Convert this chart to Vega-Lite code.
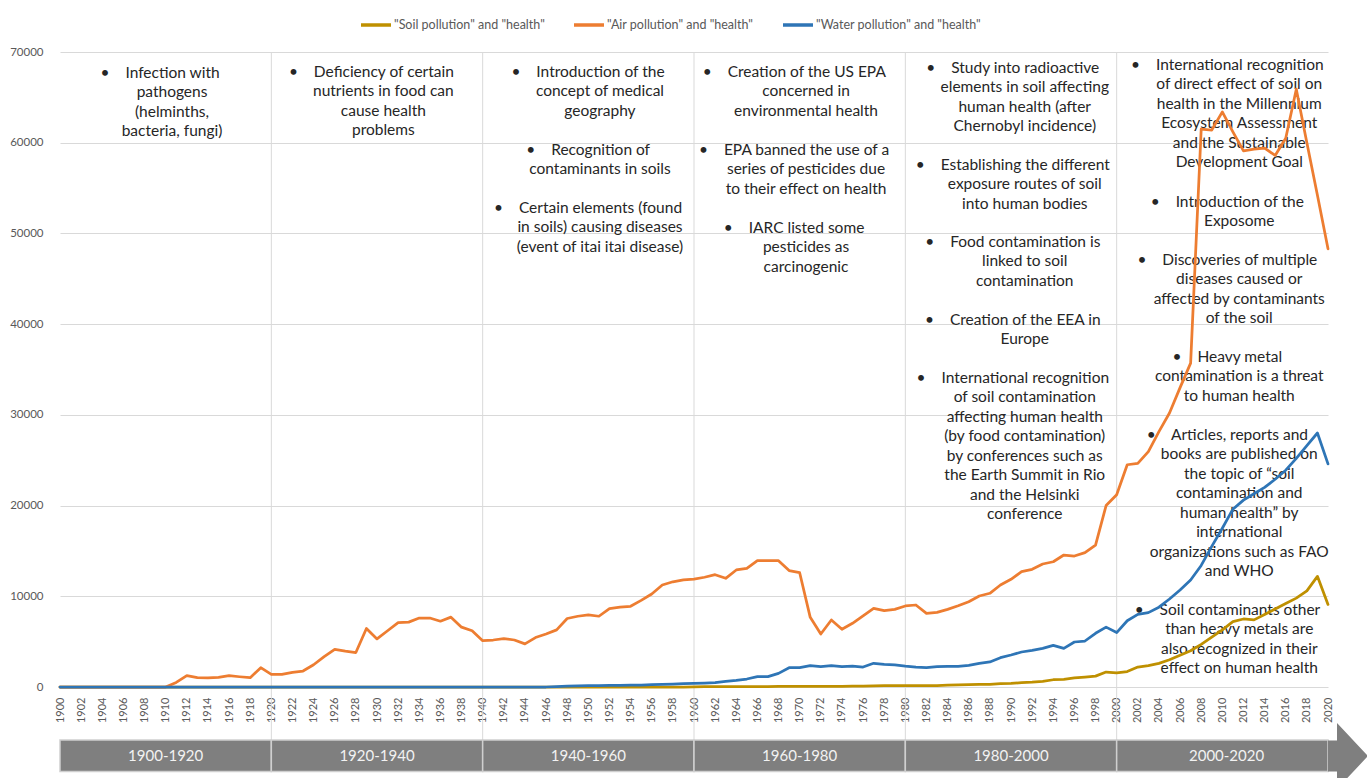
{
  "$schema": "https://vega.github.io/schema/vega-lite/v6.json",
  "width": 1268,
  "height": 635,
  "autosize": "none",
  "padding": {"left": 60, "top": 52, "right": 39, "bottom": 91},
  "background": "white",
  "config": {
    "view": {"stroke": null},
    "font": "Lato",
    "text": {"font": "Lato"},
    "axisX": {"labelOverlap": false, "labelFlush": false, "labelBound": false, "labelAngle": 270, "labelFontSize": 11, "labelColor": "#595959", "labelFont": "Lato", "ticks": false, "domain": false, "grid": false, "labelPadding": 10},
    "axisY": {"labelFontSize": 11.5, "labelColor": "#595959", "labelFont": "Lato", "ticks": false, "domain": false, "grid": true, "gridColor": "#d9d9d9", "gridWidth": 1, "labelPadding": 17}
  },
  "datasets": {
    "periods": [
      {"period": "1900-1920", "start": 1900, "end": 1920, "mid": 1910},
      {"period": "1920-1940", "start": 1920, "end": 1940, "mid": 1930},
      {"period": "1940-1960", "start": 1940, "end": 1960, "mid": 1950},
      {"period": "1960-1980", "start": 1960, "end": 1980, "mid": 1970},
      {"period": "1980-2000", "start": 1980, "end": 2000, "mid": 1990},
      {"period": "2000-2020", "start": 2000, "end": 2020, "mid": 2010.4}
    ],
    "notes": [
      {"year": 1910.6, "value": 68457, "text": "•\u00a0\u00a0\u00a0\u00a0Infection with\u00a0\u00a0\u00a0\u00a0\u00a0\u00a0\u200b\npathogens\n(helminths,\nbacteria, fungi)"},
      {"year": 1930.6, "value": 68567, "text": "•\u00a0\u00a0\u00a0\u00a0Deficiency of certain\u00a0\u00a0\u00a0\u00a0\u00a0\u00a0\u200b\nnutrients in food can\ncause health\nproblems"},
      {"year": 1951.1, "value": 68567, "text": "•\u00a0\u00a0\u00a0\u00a0Introduction of the\u00a0\u00a0\u00a0\u00a0\u00a0\u00a0\u200b\nconcept of medical\ngeography"},
      {"year": 1951.1, "value": 59968, "text": "•\u00a0\u00a0\u00a0\u00a0Recognition of\u00a0\u00a0\u00a0\u00a0\u00a0\u00a0\u200b\ncontaminants in soils"},
      {"year": 1951.1, "value": 53575, "text": "•\u00a0\u00a0\u00a0\u00a0Certain elements (found\u00a0\u00a0\u00a0\u00a0\u00a0\u00a0\u200b\nin soils) causing diseases\n(event of itai itai disease)"},
      {"year": 1970.6, "value": 68567, "text": "•\u00a0\u00a0\u00a0\u00a0Creation of the US EPA\u00a0\u00a0\u00a0\u00a0\u00a0\u00a0\u200b\nconcerned in\nenvironmental health"},
      {"year": 1970.6, "value": 59968, "text": "•\u00a0\u00a0\u00a0\u00a0EPA banned the use of a\u00a0\u00a0\u00a0\u00a0\u00a0\u00a0\u200b\nseries of pesticides due\nto their effect on health"},
      {"year": 1970.6, "value": 51370, "text": "•\u00a0\u00a0\u00a0\u00a0IARC listed some\u00a0\u00a0\u00a0\u00a0\u00a0\u00a0\u200b\npesticides as\ncarcinogenic"},
      {"year": 1991.3, "value": 69008, "text": "•\u00a0\u00a0\u00a0\u00a0Study into radioactive\u00a0\u00a0\u00a0\u00a0\u00a0\u00a0\u200b\nelements in soil affecting\nhuman health (after\nChernobyl incidence)"},
      {"year": 1991.3, "value": 58315, "text": "•\u00a0\u00a0\u00a0\u00a0Establishing the different\u00a0\u00a0\u00a0\u00a0\u00a0\u00a0\u200b\nexposure routes of soil\ninto human bodies"},
      {"year": 1991.3, "value": 49827, "text": "•\u00a0\u00a0\u00a0\u00a0Food contamination is\u00a0\u00a0\u00a0\u00a0\u00a0\u00a0\u200b\nlinked to soil\ncontamination"},
      {"year": 1991.3, "value": 41228, "text": "•\u00a0\u00a0\u00a0\u00a0Creation of the EEA in\u00a0\u00a0\u00a0\u00a0\u00a0\u00a0\u200b\nEurope"},
      {"year": 1991.3, "value": 34835, "text": "•\u00a0\u00a0\u00a0\u00a0International recognition\u00a0\u00a0\u00a0\u00a0\u00a0\u00a0\u200b\nof soil contamination\naffecting human health\n(by food contamination)\nby conferences such as\nthe Earth Summit in Rio\nand the Helsinki\nconference"},
      {"year": 2011.6, "value": 69338, "text": "•\u00a0\u00a0\u00a0\u00a0International recognition\u00a0\u00a0\u00a0\u00a0\u00a0\u00a0\u200b\nof direct effect of soil on\nhealth in the Millennium\nEcosystem Assessment\nand the Sustainable\nDevelopment Goal"},
      {"year": 2011.6, "value": 54236, "text": "•\u00a0\u00a0\u00a0\u00a0Introduction of the\u00a0\u00a0\u00a0\u00a0\u00a0\u00a0\u200b\nExposome"},
      {"year": 2011.6, "value": 47842, "text": "•\u00a0\u00a0\u00a0\u00a0Discoveries of multiple\u00a0\u00a0\u00a0\u00a0\u00a0\u00a0\u200b\ndiseases caused or\naffected by contaminants\nof the soil"},
      {"year": 2011.6, "value": 37150, "text": "•\u00a0\u00a0\u00a0\u00a0Heavy metal\u00a0\u00a0\u00a0\u00a0\u00a0\u00a0\u200b\ncontamination is a threat\nto human health"},
      {"year": 2011.6, "value": 28551, "text": "•\u00a0\u00a0\u00a0\u00a0Articles, reports and\u00a0\u00a0\u00a0\u00a0\u00a0\u00a0\u200b\nbooks are published on\nthe topic of “soil\ncontamination and\nhuman health” by\ninternational\norganizations such as FAO\nand WHO"},
      {"year": 2011.6, "value": 9260, "text": "•\u00a0\u00a0\u00a0\u00a0Soil contaminants other\u00a0\u00a0\u00a0\u00a0\u00a0\u00a0\u200b\nthan heavy metals are\nalso recognized in their\neffect on human health"}
    ],
    "soil": [
      {"year":1900,"value":0},{"year":1901,"value":0},{"year":1902,"value":0},{"year":1903,"value":0},{"year":1904,"value":0},{"year":1905,"value":0},{"year":1906,"value":0},{"year":1907,"value":0},{"year":1908,"value":0},{"year":1909,"value":0},
      {"year":1910,"value":0},{"year":1911,"value":0},{"year":1912,"value":0},{"year":1913,"value":0},{"year":1914,"value":0},{"year":1915,"value":0},{"year":1916,"value":0},{"year":1917,"value":0},{"year":1918,"value":0},{"year":1919,"value":0},
      {"year":1920,"value":0},{"year":1921,"value":0},{"year":1922,"value":0},{"year":1923,"value":0},{"year":1924,"value":0},{"year":1925,"value":0},{"year":1926,"value":0},{"year":1927,"value":0},{"year":1928,"value":0},{"year":1929,"value":0},
      {"year":1930,"value":0},{"year":1931,"value":0},{"year":1932,"value":0},{"year":1933,"value":0},{"year":1934,"value":0},{"year":1935,"value":0},{"year":1936,"value":0},{"year":1937,"value":0},{"year":1938,"value":0},{"year":1939,"value":0},
      {"year":1940,"value":0},{"year":1941,"value":0},{"year":1942,"value":0},{"year":1943,"value":0},{"year":1944,"value":0},{"year":1945,"value":0},{"year":1946,"value":0},{"year":1947,"value":0},{"year":1948,"value":0},{"year":1949,"value":0},
      {"year":1950,"value":0},{"year":1951,"value":0},{"year":1952,"value":0},{"year":1953,"value":0},{"year":1954,"value":0},{"year":1955,"value":0},{"year":1956,"value":0},{"year":1957,"value":0},{"year":1958,"value":0},{"year":1959,"value":0},
      {"year":1960,"value":20},{"year":1961,"value":30},{"year":1962,"value":30},{"year":1963,"value":40},{"year":1964,"value":40},{"year":1965,"value":50},{"year":1966,"value":50},{"year":1967,"value":50},{"year":1968,"value":60},{"year":1969,"value":60},
      {"year":1970,"value":60},{"year":1971,"value":70},{"year":1972,"value":70},{"year":1973,"value":70},{"year":1974,"value":80},{"year":1975,"value":90},{"year":1976,"value":110},{"year":1977,"value":130},{"year":1978,"value":140},{"year":1979,"value":150},
      {"year":1980,"value":150},{"year":1981,"value":150},{"year":1982,"value":150},{"year":1983,"value":160},{"year":1984,"value":200},{"year":1985,"value":240},{"year":1986,"value":260},{"year":1987,"value":290},{"year":1988,"value":300},{"year":1989,"value":380},
      {"year":1990,"value":400},{"year":1991,"value":480},{"year":1992,"value":530},{"year":1993,"value":620},{"year":1994,"value":800},{"year":1995,"value":850},{"year":1996,"value":1000},{"year":1997,"value":1100},{"year":1998,"value":1200},{"year":1999,"value":1650},
      {"year":2000,"value":1550},{"year":2001,"value":1700},{"year":2002,"value":2200},{"year":2003,"value":2350},{"year":2004,"value":2600},{"year":2005,"value":3000},{"year":2006,"value":3500},{"year":2007,"value":4000},{"year":2008,"value":4700},{"year":2009,"value":5500},
      {"year":2010,"value":6300},{"year":2011,"value":7200},{"year":2012,"value":7500},{"year":2013,"value":7400},{"year":2014,"value":8000},{"year":2015,"value":8600},{"year":2016,"value":9200},{"year":2017,"value":9800},{"year":2018,"value":10600},{"year":2019,"value":12200},
      {"year":2020,"value":9100}
    ],
    "air": [
      {"year":1900,"value":0},{"year":1901,"value":0},{"year":1902,"value":0},{"year":1903,"value":0},{"year":1904,"value":0},{"year":1905,"value":0},{"year":1906,"value":0},{"year":1907,"value":0},{"year":1908,"value":0},{"year":1909,"value":0},
      {"year":1910,"value":0},{"year":1911,"value":500},{"year":1912,"value":1250},{"year":1913,"value":1030},{"year":1914,"value":1000},{"year":1915,"value":1050},{"year":1916,"value":1250},{"year":1917,"value":1130},{"year":1918,"value":1030},{"year":1919,"value":2130},
      {"year":1920,"value":1400},{"year":1921,"value":1400},{"year":1922,"value":1620},{"year":1923,"value":1760},{"year":1924,"value":2450},{"year":1925,"value":3350},{"year":1926,"value":4150},{"year":1927,"value":3950},{"year":1928,"value":3800},{"year":1929,"value":6450},
      {"year":1930,"value":5300},{"year":1931,"value":6200},{"year":1932,"value":7100},{"year":1933,"value":7150},{"year":1934,"value":7600},{"year":1935,"value":7600},{"year":1936,"value":7250},{"year":1937,"value":7700},{"year":1938,"value":6600},{"year":1939,"value":6200},
      {"year":1940,"value":5100},{"year":1941,"value":5180},{"year":1942,"value":5330},{"year":1943,"value":5180},{"year":1944,"value":4750},{"year":1945,"value":5450},{"year":1946,"value":5850},{"year":1947,"value":6300},{"year":1948,"value":7550},{"year":1949,"value":7800},
      {"year":1950,"value":7950},{"year":1951,"value":7800},{"year":1952,"value":8650},{"year":1953,"value":8800},{"year":1954,"value":8900},{"year":1955,"value":9550},{"year":1956,"value":10250},{"year":1957,"value":11250},{"year":1958,"value":11600},{"year":1959,"value":11800},
      {"year":1960,"value":11900},{"year":1961,"value":12100},{"year":1962,"value":12380},{"year":1963,"value":11980},{"year":1964,"value":12900},{"year":1965,"value":13080},{"year":1966,"value":13930},{"year":1967,"value":13930},{"year":1968,"value":13930},{"year":1969,"value":12830},
      {"year":1970,"value":12600},{"year":1971,"value":7680},{"year":1972,"value":5840},{"year":1973,"value":7390},{"year":1974,"value":6360},{"year":1975,"value":7020},{"year":1976,"value":7830},{"year":1977,"value":8670},{"year":1978,"value":8410},{"year":1979,"value":8560},
      {"year":1980,"value":8930},{"year":1981,"value":9040},{"year":1982,"value":8120},{"year":1983,"value":8230},{"year":1984,"value":8560},{"year":1985,"value":8950},{"year":1986,"value":9400},{"year":1987,"value":10030},{"year":1988,"value":10330},{"year":1989,"value":11240},
      {"year":1990,"value":11870},{"year":1991,"value":12710},{"year":1992,"value":12970},{"year":1993,"value":13560},{"year":1994,"value":13810},{"year":1995,"value":14550},{"year":1996,"value":14440},{"year":1997,"value":14810},{"year":1998,"value":15650},{"year":1999,"value":20000},
      {"year":2000,"value":21200},{"year":2001,"value":24500},{"year":2002,"value":24650},{"year":2003,"value":25950},{"year":2004,"value":28150},{"year":2005,"value":30200},{"year":2006,"value":33000},{"year":2007,"value":35700},{"year":2008,"value":61500},{"year":2009,"value":61400},
      {"year":2010,"value":63400},{"year":2011,"value":61200},{"year":2012,"value":59100},{"year":2013,"value":59300},{"year":2014,"value":59400},{"year":2015,"value":58600},{"year":2016,"value":60500},{"year":2017,"value":65900},{"year":2018,"value":60000},{"year":2019,"value":54200},
      {"year":2020,"value":48300}
    ],
    "water": [
      {"year":1900,"value":0},{"year":1901,"value":0},{"year":1902,"value":0},{"year":1903,"value":0},{"year":1904,"value":0},{"year":1905,"value":0},{"year":1906,"value":0},{"year":1907,"value":0},{"year":1908,"value":0},{"year":1909,"value":0},
      {"year":1910,"value":0},{"year":1911,"value":0},{"year":1912,"value":0},{"year":1913,"value":0},{"year":1914,"value":0},{"year":1915,"value":0},{"year":1916,"value":0},{"year":1917,"value":0},{"year":1918,"value":0},{"year":1919,"value":0},
      {"year":1920,"value":0},{"year":1921,"value":0},{"year":1922,"value":0},{"year":1923,"value":0},{"year":1924,"value":0},{"year":1925,"value":0},{"year":1926,"value":0},{"year":1927,"value":0},{"year":1928,"value":0},{"year":1929,"value":0},
      {"year":1930,"value":0},{"year":1931,"value":0},{"year":1932,"value":0},{"year":1933,"value":0},{"year":1934,"value":0},{"year":1935,"value":0},{"year":1936,"value":0},{"year":1937,"value":0},{"year":1938,"value":0},{"year":1939,"value":0},
      {"year":1940,"value":0},{"year":1941,"value":0},{"year":1942,"value":0},{"year":1943,"value":0},{"year":1944,"value":0},{"year":1945,"value":0},{"year":1946,"value":0},{"year":1947,"value":50},{"year":1948,"value":100},{"year":1949,"value":130},
      {"year":1950,"value":150},{"year":1951,"value":150},{"year":1952,"value":170},{"year":1953,"value":180},{"year":1954,"value":200},{"year":1955,"value":220},{"year":1956,"value":260},{"year":1957,"value":300},{"year":1958,"value":330},{"year":1959,"value":380},
      {"year":1960,"value":400},{"year":1961,"value":430},{"year":1962,"value":480},{"year":1963,"value":620},{"year":1964,"value":730},{"year":1965,"value":880},{"year":1966,"value":1140},{"year":1967,"value":1140},{"year":1968,"value":1500},{"year":1969,"value":2130},
      {"year":1970,"value":2130},{"year":1971,"value":2350},{"year":1972,"value":2240},{"year":1973,"value":2350},{"year":1974,"value":2240},{"year":1975,"value":2300},{"year":1976,"value":2200},{"year":1977,"value":2610},{"year":1978,"value":2500},{"year":1979,"value":2430},
      {"year":1980,"value":2300},{"year":1981,"value":2200},{"year":1982,"value":2130},{"year":1983,"value":2240},{"year":1984,"value":2280},{"year":1985,"value":2280},{"year":1986,"value":2390},{"year":1987,"value":2610},{"year":1988,"value":2760},{"year":1989,"value":3230},
      {"year":1990,"value":3530},{"year":1991,"value":3860},{"year":1992,"value":4040},{"year":1993,"value":4260},{"year":1994,"value":4590},{"year":1995,"value":4260},{"year":1996,"value":4960},{"year":1997,"value":5070},{"year":1998,"value":5920},{"year":1999,"value":6600},
      {"year":2000,"value":6000},{"year":2001,"value":7300},{"year":2002,"value":8000},{"year":2003,"value":8200},{"year":2004,"value":8800},{"year":2005,"value":9700},{"year":2006,"value":10700},{"year":2007,"value":11800},{"year":2008,"value":13400},{"year":2009,"value":15500},
      {"year":2010,"value":17500},{"year":2011,"value":19600},{"year":2012,"value":20600},{"year":2013,"value":21300},{"year":2014,"value":22000},{"year":2015,"value":22900},{"year":2016,"value":23900},{"year":2017,"value":25200},{"year":2018,"value":26600},{"year":2019,"value":28000},
      {"year":2020,"value":24600}
    ]
  },
  "layer": [
    {
      "data": {"values": [{"year": 1920}, {"year": 1940}, {"year": 1960}, {"year": 1980}, {"year": 2000}]},
      "mark": {"type": "rule", "color": "#d9d9d9", "strokeWidth": 1},
      "encoding": {
        "x": {
          "field": "year", "type": "quantitative", "title": null,
          "scale": {"domain": [1900, 2020], "nice": false, "zero": false},
          "axis": {
            "values": [1900,1902,1904,1906,1908,1910,1912,1914,1916,1918,1920,1922,1924,1926,1928,1930,1932,1934,1936,1938,1940,1942,1944,1946,1948,1950,1952,1954,1956,1958,1960,1962,1964,1966,1968,1970,1972,1974,1976,1978,1980,1982,1984,1986,1988,1990,1992,1994,1996,1998,2000,2002,2004,2006,2008,2010,2012,2014,2016,2018,2020],
            "format": "d", "labelOverlap": false, "labelFlush": false, "labelBound": false, "labelSeparation": 0
          }
        },
        "y": {
          "datum": 70000, "type": "quantitative", "title": null,
          "scale": {"domain": [0, 70000], "nice": false},
          "axis": {"values": [0, 10000, 20000, 30000, 40000, 50000, 60000, 70000], "format": "d"}
        },
        "y2": {"datum": -5843}
      }
    },
    {
      "data": {"name": "periods"},
      "mark": {"type": "rect", "fill": "#7f7f7f", "stroke": "#cfcfcf", "strokeWidth": 1.5},
      "encoding": {
        "x": {
          "field": "start", "type": "quantitative", "title": null,
          "axis": {
            "values": [1900,1902,1904,1906,1908,1910,1912,1914,1916,1918,1920,1922,1924,1926,1928,1930,1932,1934,1936,1938,1940,1942,1944,1946,1948,1950,1952,1954,1956,1958,1960,1962,1964,1966,1968,1970,1972,1974,1976,1978,1980,1982,1984,1986,1988,1990,1992,1994,1996,1998,2000,2002,2004,2006,2008,2010,2012,2014,2016,2018,2020],
            "format": "d", "labelOverlap": false, "labelFlush": false, "labelBound": false, "labelSeparation": 0
          }
        },
        "x2": {"field": "end"},
        "y": {"datum": -5843, "type": "quantitative", "title": null, "axis": {"values": [0, 10000, 20000, 30000, 40000, 50000, 60000, 70000], "format": "d"}},
        "y2": {"datum": -9315}
      }
    },
    {
      "data": {"name": "periods"},
      "transform": [{"filter": "datum.period == '2000-2020'"}],
      "mark": {
        "type": "point",
        "shape": "M -0.606 -0.47 L -0.333 -0.47 L -0.333 -1 L 0.606 0 L -0.333 1 L -0.333 0.47 L -0.606 0.47 Z",
        "size": 4356,
        "filled": true,
        "fill": "#7f7f7f",
        "opacity": 1,
        "strokeWidth": 0,
        "xOffset": 20
      },
      "encoding": {
        "x": {
          "field": "end", "type": "quantitative", "title": null,
          "axis": {
            "values": [1900,1902,1904,1906,1908,1910,1912,1914,1916,1918,1920,1922,1924,1926,1928,1930,1932,1934,1936,1938,1940,1942,1944,1946,1948,1950,1952,1954,1956,1958,1960,1962,1964,1966,1968,1970,1972,1974,1976,1978,1980,1982,1984,1986,1988,1990,1992,1994,1996,1998,2000,2002,2004,2006,2008,2010,2012,2014,2016,2018,2020],
            "format": "d", "labelOverlap": false, "labelFlush": false, "labelBound": false, "labelSeparation": 0
          }
        },
        "y": {"datum": -7606, "type": "quantitative", "title": null, "axis": {"values": [0, 10000, 20000, 30000, 40000, 50000, 60000, 70000], "format": "d"}}
      }
    },
    {
      "data": {"name": "periods"},
      "mark": {"type": "text", "align": "center", "baseline": "middle", "fontSize": 15, "color": "#f2f2f2", "font": "Lato"},
      "encoding": {
        "x": {
          "field": "mid", "type": "quantitative", "title": null,
          "axis": {
            "values": [1900,1902,1904,1906,1908,1910,1912,1914,1916,1918,1920,1922,1924,1926,1928,1930,1932,1934,1936,1938,1940,1942,1944,1946,1948,1950,1952,1954,1956,1958,1960,1962,1964,1966,1968,1970,1972,1974,1976,1978,1980,1982,1984,1986,1988,1990,1992,1994,1996,1998,2000,2002,2004,2006,2008,2010,2012,2014,2016,2018,2020],
            "format": "d", "labelOverlap": false, "labelFlush": false, "labelBound": false, "labelSeparation": 0
          }
        },
        "y": {"datum": -7606, "type": "quantitative", "title": null, "axis": {"values": [0, 10000, 20000, 30000, 40000, 50000, 60000, 70000], "format": "d"}},
        "text": {"field": "period"}
      }
    },
    {
      "data": {"name": "notes"},
      "mark": {"type": "text", "align": "center", "baseline": "top", "fontSize": 15.5, "lineHeight": 19.45, "lineBreak": "\n", "color": "#262626", "font": "Lato"},
      "encoding": {
        "x": {
          "field": "year", "type": "quantitative", "title": null,
          "axis": {
            "values": [1900,1902,1904,1906,1908,1910,1912,1914,1916,1918,1920,1922,1924,1926,1928,1930,1932,1934,1936,1938,1940,1942,1944,1946,1948,1950,1952,1954,1956,1958,1960,1962,1964,1966,1968,1970,1972,1974,1976,1978,1980,1982,1984,1986,1988,1990,1992,1994,1996,1998,2000,2002,2004,2006,2008,2010,2012,2014,2016,2018,2020],
            "format": "d", "labelOverlap": false, "labelFlush": false, "labelBound": false, "labelSeparation": 0
          }
        },
        "y": {"field": "value", "type": "quantitative", "title": null, "axis": {"values": [0, 10000, 20000, 30000, 40000, 50000, 60000, 70000], "format": "d"}},
        "text": {"field": "text"}
      }
    },
    {
      "data": {"name": "soil"},
      "mark": {"type": "line", "strokeWidth": 2.75, "strokeJoin": "round", "strokeCap": "round"},
      "encoding": {
        "x": {
          "field": "year", "type": "quantitative", "title": null,
          "axis": {
            "values": [1900,1902,1904,1906,1908,1910,1912,1914,1916,1918,1920,1922,1924,1926,1928,1930,1932,1934,1936,1938,1940,1942,1944,1946,1948,1950,1952,1954,1956,1958,1960,1962,1964,1966,1968,1970,1972,1974,1976,1978,1980,1982,1984,1986,1988,1990,1992,1994,1996,1998,2000,2002,2004,2006,2008,2010,2012,2014,2016,2018,2020],
            "format": "d", "labelOverlap": false, "labelFlush": false, "labelBound": false, "labelSeparation": 0
          }
        },
        "y": {"field": "value", "type": "quantitative", "title": null, "axis": {"values": [0, 10000, 20000, 30000, 40000, 50000, 60000, 70000], "format": "d"}},
        "color": {
          "datum": "\"Soil pollution\" and \"health\"",
          "type": "nominal",
          "scale": {
            "domain": ["\"Soil pollution\" and \"health\"", "\"Air pollution\" and \"health\"", "\"Water pollution\" and \"health\""],
            "range": ["#BF9000", "#ED7D31", "#2E75B6"]
          },
          "legend": {
            "title": null, "orient": "none", "legendX": 299, "legendY": -44, "direction": "horizontal",
            "symbolType": "stroke", "symbolSize": 900, "symbolStrokeWidth": 3.5,
            "labelFontSize": 12.5, "labelColor": "#595959", "labelFont": "Lato", "labelLimit": 400,
            "columnPadding": 22, "labelOffset": 1
          }
        }
      }
    },
    {
      "data": {"name": "air"},
      "mark": {"type": "line", "strokeWidth": 2.75, "strokeJoin": "round", "strokeCap": "round"},
      "encoding": {
        "x": {
          "field": "year", "type": "quantitative", "title": null,
          "axis": {
            "values": [1900,1902,1904,1906,1908,1910,1912,1914,1916,1918,1920,1922,1924,1926,1928,1930,1932,1934,1936,1938,1940,1942,1944,1946,1948,1950,1952,1954,1956,1958,1960,1962,1964,1966,1968,1970,1972,1974,1976,1978,1980,1982,1984,1986,1988,1990,1992,1994,1996,1998,2000,2002,2004,2006,2008,2010,2012,2014,2016,2018,2020],
            "format": "d", "labelOverlap": false, "labelFlush": false, "labelBound": false, "labelSeparation": 0
          }
        },
        "y": {"field": "value", "type": "quantitative", "title": null, "axis": {"values": [0, 10000, 20000, 30000, 40000, 50000, 60000, 70000], "format": "d"}},
        "color": {"datum": "\"Air pollution\" and \"health\"", "type": "nominal"}
      }
    },
    {
      "data": {"name": "water"},
      "mark": {"type": "line", "strokeWidth": 2.75, "strokeJoin": "round", "strokeCap": "round"},
      "encoding": {
        "x": {
          "field": "year", "type": "quantitative", "title": null,
          "axis": {
            "values": [1900,1902,1904,1906,1908,1910,1912,1914,1916,1918,1920,1922,1924,1926,1928,1930,1932,1934,1936,1938,1940,1942,1944,1946,1948,1950,1952,1954,1956,1958,1960,1962,1964,1966,1968,1970,1972,1974,1976,1978,1980,1982,1984,1986,1988,1990,1992,1994,1996,1998,2000,2002,2004,2006,2008,2010,2012,2014,2016,2018,2020],
            "format": "d", "labelOverlap": false, "labelFlush": false, "labelBound": false, "labelSeparation": 0
          }
        },
        "y": {"field": "value", "type": "quantitative", "title": null, "axis": {"values": [0, 10000, 20000, 30000, 40000, 50000, 60000, 70000], "format": "d"}},
        "color": {"datum": "\"Water pollution\" and \"health\"", "type": "nominal"}
      }
    }
  ]
}
